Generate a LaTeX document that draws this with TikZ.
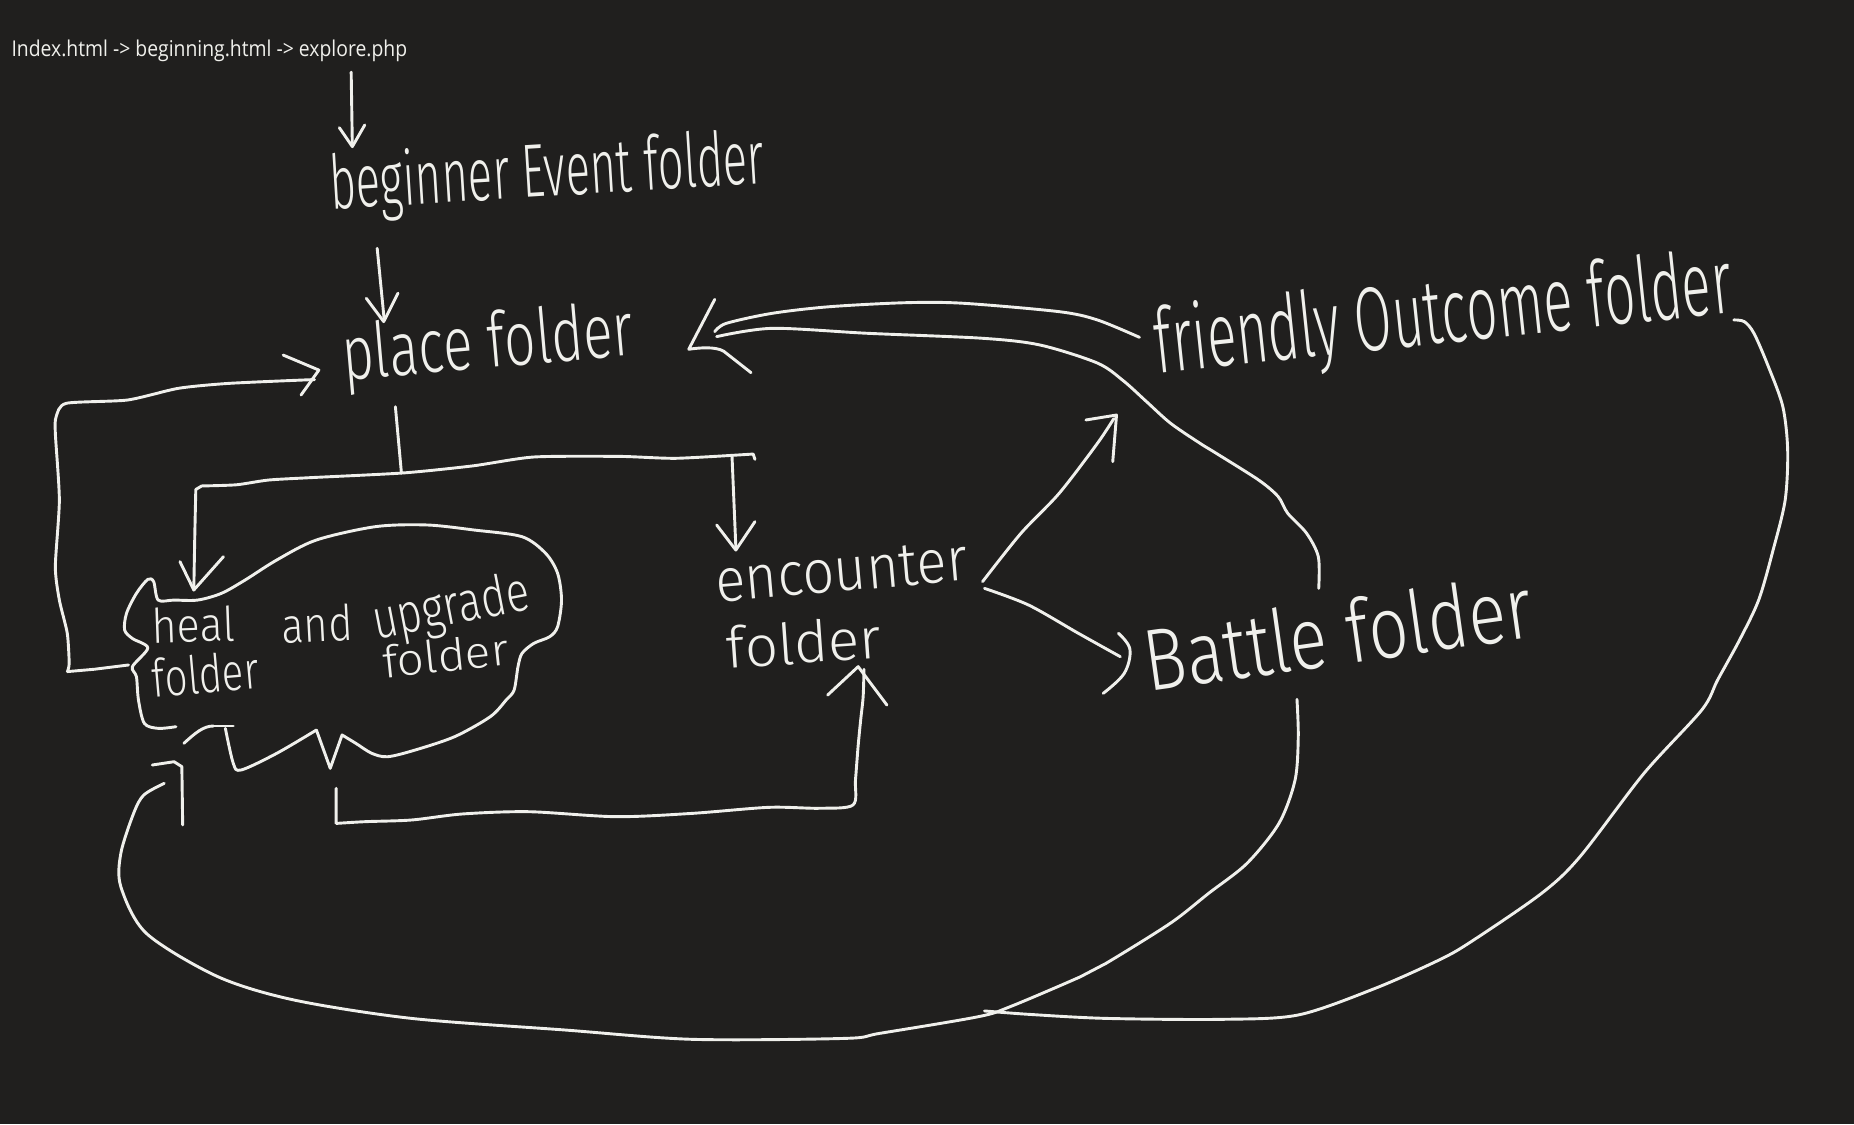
\documentclass[tikz,border=0pt]{standalone}
\usepackage{fontspec}
\usepackage{graphicx}
\IfFontExistsTF{Fira Sans Light}{\newfontfamily\handfont{Fira Sans Light}}{\newfontfamily\handfont{Fira Sans}}
\newfontfamily\topfont{Open Sans}
\definecolor{bgc}{RGB}{32,31,30}
\definecolor{ink}{RGB}{240,240,236}
\newdimen\un \un=0.025cm
\newcommand{\hw}[3]{\resizebox{#1\un}{#2\un}{\handfont #3}}
\begin{document}
\begin{tikzpicture}[x=0.025cm,y=-0.025cm,
  hand/.style={draw=ink, line width=1.75pt, line cap=round, line join=round},
  lab/.style={text=ink, inner sep=0pt, anchor=base}]
\fill[bgc] (0,0) rectangle (1568,951);
\useasboundingbox (0,0) rectangle (1568,951);

% ---------- texts ----------
\node[lab, anchor=base west] (top) at (9.5,48) {\resizebox{334.5\un}{14\un}{\topfont Index.html -> beginning.html -> explore.php}};
\node[lab, rotate=3.5] (beg) at (464,166) {\hw{368}{48}{beginner Event folder}};
\node[lab, rotate=5] (place) at (414,311) {\hw{247}{48}{place folder}};
\node[lab, rotate=6] (friendly) at (1223,290) {\hw{490}{58}{friendly Outcome folder}};
\node[lab, rotate=5] (enc) at (713,500) {\hw{214}{34}{encounter}};
\node[lab, rotate=4] (encf) at (681,561) {\hw{131}{36}{folder}};
\node[lab, rotate=8] (battle) at (1135,562) {\hw{330}{55}{Battle folder}};
\node[lab, rotate=2] (heal) at (164,543) {\hw{70}{30}{heal}};
\node[lab, rotate=5] (healf) at (175,586) {\hw{90}{33}{folder}};
\node[lab, rotate=3] (and) at (269,543) {\hw{60}{31}{and}};
\node[lab, rotate=11] (upg) at (384,528) {\hw{134}{35}{upgrade}};
\node[lab, rotate=6] (upf) at (378,568) {\hw{107}{28}{folder}};

% ---------- connector end points ----------
\coordinate (t1) at (297,61);   \coordinate (t2) at (298,124);
\coordinate (b1) at (319,210);  \coordinate (b2) at (325,271);
\coordinate (p1) at (334.4,344); \coordinate (p2) at (339.5,400);
\coordinate (hL) at (163.9,499); \coordinate (hR) at (637,384);
\coordinate (e1) at (619.1,386); \coordinate (e2) at (622.3,462);
\coordinate (lp1) at (108.7,562.4); \coordinate (lp2) at (266,321);
\coordinate (ce1) at (284.3,666.7); \coordinate (ce2) at (730.7,566);
\coordinate (ef1) at (831,491.9); \coordinate (ef2) at (942,354);
\coordinate (eb1) at (832.6,497.6); \coordinate (eb2) at (947.5,555.4);
\coordinate (fp1) at (963.7,285.3); \coordinate (fp2) at (604.5,280.5);
\coordinate (bp1) at (1115.3,497.6); \coordinate (bp2) at (606.1,284.7);
\coordinate (bh1) at (1096.9,591.5); \coordinate (bh2) at (138.9,662.5);
\coordinate (fm1) at (1466.3,270.6); \coordinate (fm2) at (832.6,855);

% top arrow
\draw[hand] (t1) -- (t2);
\draw[hand] (287,108) -- (t2) -- (308.5,105.7);
% beginner -> place
\draw[hand] (b1) -- (b2);
\draw[hand] (309.8,252.3) -- (324.5,272) -- (336.6,248);
% place -> split
\draw[hand] (p1) -- (p2);
\draw[hand] plot[smooth, tension=0.4] coordinates {(hL) (164.8,450) (165.6,414)}
  -- (170.6,411) plot[smooth, tension=0.4] coordinates {(170.6,411) (200,410) (227,406) (262,404) (341,400) (400,394) (451.5,386.5) (524,386) (572,387.6) (hR)} -- (638.5,388.5);
\draw[hand] (152.2,475) -- (hL) -- (189,470.8);
\draw[hand] (e1) -- (e2);
\draw[hand] (606.1,444) -- (622.3,465.2) -- (638.5,441.2);
% left loop back to place
\draw[hand] (lp1) -- (80,566) -- (57,568)
  plot[smooth, tension=0.4] coordinates {(57,568) (58.5,561) (56.9,535.6) (50.2,507.5) (46.8,479.3) (50.2,422.9) (46.8,366.5) (47.5,352.4) (56.1,341.1) (107.9,338.3) (151,328.4) (194.2,324.2) (lp2)};
\draw[hand] (239.5,300.3) -- (269.7,313) -- (254.6,334.1);

% cloud
\draw[hand] plot[smooth, tension=0.5] coordinates {(148.8,614.6) (133.8,616) (122.1,611.8) (117.1,592) (115.4,572.3) (112,563.8) (125,548) (112,540) (105.4,532.8) (107,518.7) (115.4,501.8) (125,490) (130,492) (133.8,507.5) (147.2,507.5) (167.2,507.5) (187.3,501.8) (207.4,490.5) (234.1,473.6) (267.6,456.7) (317.7,445.4) (361.2,444) (401.3,448.3) (441.5,453.9) (461.5,468) (471.6,484.9) (474.9,507.5) (471.6,530) (464.9,538.5) (451.5,544.1) (441.5,552.6) (438.1,563.8) (434.8,583.6) (428.1,592) (414.7,606.1) (384.6,623) (351.2,634.3) (327.8,640) (314.4,637.1) (301,628.7) (289.3,621.6)}
  -- (279.3,649.8) -- (267.6,617.4)
  plot[smooth, tension=0.5] coordinates {(267.6,617.4) (234.1,637.1) (204,651.2) (197.3,645.6) (190.6,616)};
\draw[hand] (180.6,614) -- (197.3,614);
\draw[hand] (155.5,628.7) .. controls (165,620) and (172,614) .. (180.6,614);

% cloud -> encounter
\draw[hand] (ce1) -- (284.3,696.4)
  plot[smooth, tension=0.5] coordinates {(284.3,696.4) (309.3,694.9) (348.1,693.5) (391.3,688.4) (447.4,686.5) (520.7,690.7) (585.5,687.9) (650.2,682.8) (693.3,683.6) (721.4,680.8) (723.5,659.7) (725.7,631.5) (727.9,608.9) (730,589.2) (ce2)};
\draw[hand] (700,587.8) -- (725.8,563.8) -- (750.1,596.3);

% encounter -> friendly outcome
\draw[hand] plot[smooth, tension=0.5] coordinates {(ef1) (863.4,451.1) (895.8,417.2) (928.1,375) (ef2)};
\draw[hand] (918.4,355.2) -- (944.3,351) -- (941.1,390.4);
% encounter -> battle
\draw[hand] plot[smooth, tension=0.5] coordinates {(eb1) (869.9,511.7) (912,535.6) (eb2)};
\draw[hand] plot[smooth, tension=0.6] coordinates {(945.9,535.6) (955.6,549) (950.8,569.5) (933,586.4)};

% friendly -> place
\draw[hand] plot[smooth, tension=0.5] coordinates {(fp1) (928.1,270.6) (895.8,263.6) (814.8,256.5) (766.3,256) (701.6,259.4) (653,265) (614.2,273.5) (fp2)};
% battle -> place
\draw[hand] plot[smooth, tension=0.5] coordinates {(bp1) (1115,471) (1105,451) (1089,434) (1081,420) (1064.5,406) (1028,383) (1015,375) (990,358) (970,340) (950,322) (928,307) (879.6,291.8) (831,286.1) (733.9,281.9) (653,277.7) (bp2)};
\draw[hand] (604.5,253.2) -- (582.5,295.4) .. controls (592,294) and (605,293) .. (612,297) -- (635.2,315.2);

% battle -> heal (bottom loop)
\draw[hand] plot[smooth, tension=0.5] coordinates {(bh1) (1098,623) (1095.3,659.7) (1081.7,696.3) (1054.6,730.2) (1022.2,755.5) (989.7,780.9) (935.5,814.7) (913.9,826) (854.3,851.4) (827.2,859.9) (744.3,873.9) (714.9,878.2) (585.5,879) (477.6,871.1) (348.1,861.3) (248.9,845.8) (184.2,826) (123.8,789.4) (102.2,749.9) (102.2,721.7) (113,687.9) (121.6,672.4) (bh2)};
\draw[hand] (128.8,647) -- (147.2,644.2) -- (153.8,648.4) -- (154.5,697.7);

% friendly outcome -> joins bottom loop
\draw[hand] plot[smooth, tension=0.5] coordinates {(fm1) (1475.2,272) (1483.4,281.9) (1495.6,310.1) (1507.8,343.9) (1511.9,380.6) (1509.8,422.8) (1499.6,465.1) (1487.4,507.4) (1471.2,541.3) (1452.7,575) (1439.2,600.5) (1390.4,654) (1336.3,724.5) (1303.8,755.5) (1244.2,796.4) (1217.1,811.9) (1163,835.9) (1098,858.4) (1033,862.1) (935.5,861.3) (870.5,857.9) (fm2)};
\end{tikzpicture}
\end{document}
